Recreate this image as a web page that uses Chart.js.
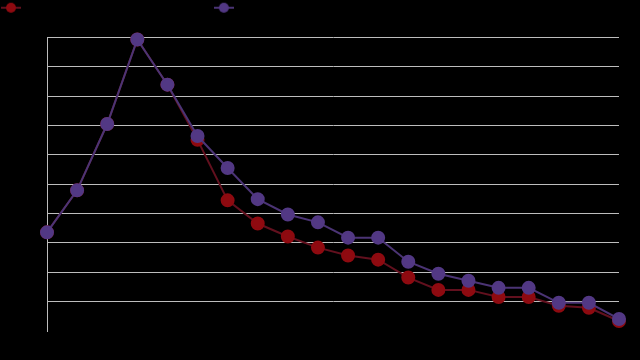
<!DOCTYPE html>
<html>
<head>
<meta charset="utf-8">
<script src="https://cdn.jsdelivr.net/npm/chart.js@4"></script>
<style>
  html, body { margin: 0; padding: 0; background: #000; }
  #wrap { width: 640px; height: 360px; }
</style>
</head>
<body>
<div id="wrap"><canvas id="chart"></canvas></div>
<script>
const categories = ['1', '2', '3', '4', '5', '6', '7', '8', '9', '10',
                    '11', '12', '13', '14', '15', '16', '17', '18', '19', '20'];
const seriesNames = ['Series A - observed values over time', 'Series B - observed values over time'];
const redValues = [3.36, 4.79, 7.05, 9.93, 8.39, 6.51, 4.45, 3.66, 3.22, 2.84,
                   2.57, 2.43, 1.82, 1.40, 1.40, 1.16, 1.16, 0.86, 0.79, 0.34];
const purpleValues = [3.36, 4.79, 7.05, 9.93, 8.39, 6.64, 5.55, 4.49, 3.97, 3.70,
                      3.18, 3.18, 2.36, 1.95, 1.71, 1.47, 1.47, 0.96, 0.96, 0.41];
const yMin = 0, yMax = 10, yStep = 1;

const RED_LINE = '#62101e', RED_POINT = '#8e0a10';
const PURPLE_LINE = '#4b3475', PURPLE_POINT = '#523884';

// legend marker: short line with a dot through the middle
function makeIcon(lineColor, pointColor) {
    const c = document.createElement('canvas');
    c.width = 20; c.height = 14;
    const g = c.getContext('2d');
    g.strokeStyle = lineColor;
    g.lineWidth = 2;
    g.beginPath(); g.moveTo(0, 8); g.lineTo(20, 8); g.stroke();
    g.fillStyle = pointColor;
    g.beginPath(); g.arc(10, 8, 5, 0, Math.PI * 2); g.fill();
    return c;
}

const icons = [makeIcon(RED_LINE, RED_POINT), makeIcon(PURPLE_LINE, PURPLE_POINT)];

const bgPlugin = {
    id: 'bg',
    beforeDraw(chart) {
        const ctx = chart.ctx;
        ctx.save();
        ctx.fillStyle = '#000';
        ctx.fillRect(0, 0, chart.width, chart.height);
        ctx.restore();
    }
};

new Chart(document.getElementById('chart'), {
    type: 'line',
    data: {
        labels: categories,
        datasets: [{
            label: seriesNames[0],
            data: redValues,
            order: 1,
            borderColor: RED_LINE,
            backgroundColor: RED_POINT,
            pointBackgroundColor: RED_POINT,
            pointBorderColor: RED_POINT,
            borderWidth: 2,
            pointRadius: 6,
            tension: 0,
            clip: false
        }, {
            label: seriesNames[1],
            data: purpleValues,
            order: 0,
            borderColor: PURPLE_LINE,
            backgroundColor: PURPLE_POINT,
            pointBackgroundColor: PURPLE_POINT,
            pointBorderColor: PURPLE_POINT,
            borderWidth: 2,
            pointRadius: 6,
            tension: 0,
            clip: false
        }]
    },
    options: {
        responsive: true,
        maintainAspectRatio: false,
        animation: false,
        layout: { padding: { right: 21 } },
        plugins: {
            tooltip: { enabled: false },
            legend: {
                align: 'start',
                labels: {
                    color: '#000',
                    font: { size: 11.4, family: 'Liberation Sans' },
                    padding: 1,
                    boxHeight: 12,
                    usePointStyle: true,
                    pointStyleWidth: 20,
                    generateLabels(chart) {
                        return chart.data.datasets.map((ds, i) => ({
                            text: ds.label,
                            fontColor: '#000',
                            pointStyle: icons[i],
                            datasetIndex: i,
                            lineWidth: 0,
                            strokeStyle: 'transparent',
                            fillStyle: 'transparent'
                        }));
                    }
                }
            }
        },
        scales: {
            x: {
                type: 'category',
                offset: false,
                grid: { display: false },
                border: { display: false },
                ticks: { display: false },
                afterFit(s) { s.height = 29; }
            },
            xTop: {
                type: 'category',
                position: 'top',
                labels: categories,
                grid: { display: false },
                border: { display: false },
                ticks: { display: false },
                afterFit(s) { s.height = 15; }
            },
            y: {
                min: yMin,
                max: yMax,
                ticks: { display: false, stepSize: yStep },
                grid: {
                    drawTicks: false,
                    lineWidth: 1,
                    color: (c) => c.tick && c.tick.value === yMin ? 'rgba(0,0,0,0)' : '#bdbdbd'
                },
                border: { display: true, color: '#bdbdbd', width: 1 },
                afterFit(s) { s.width = 47; }
            }
        }
    },
    plugins: [bgPlugin]
});
</script>
</body>
</html>
